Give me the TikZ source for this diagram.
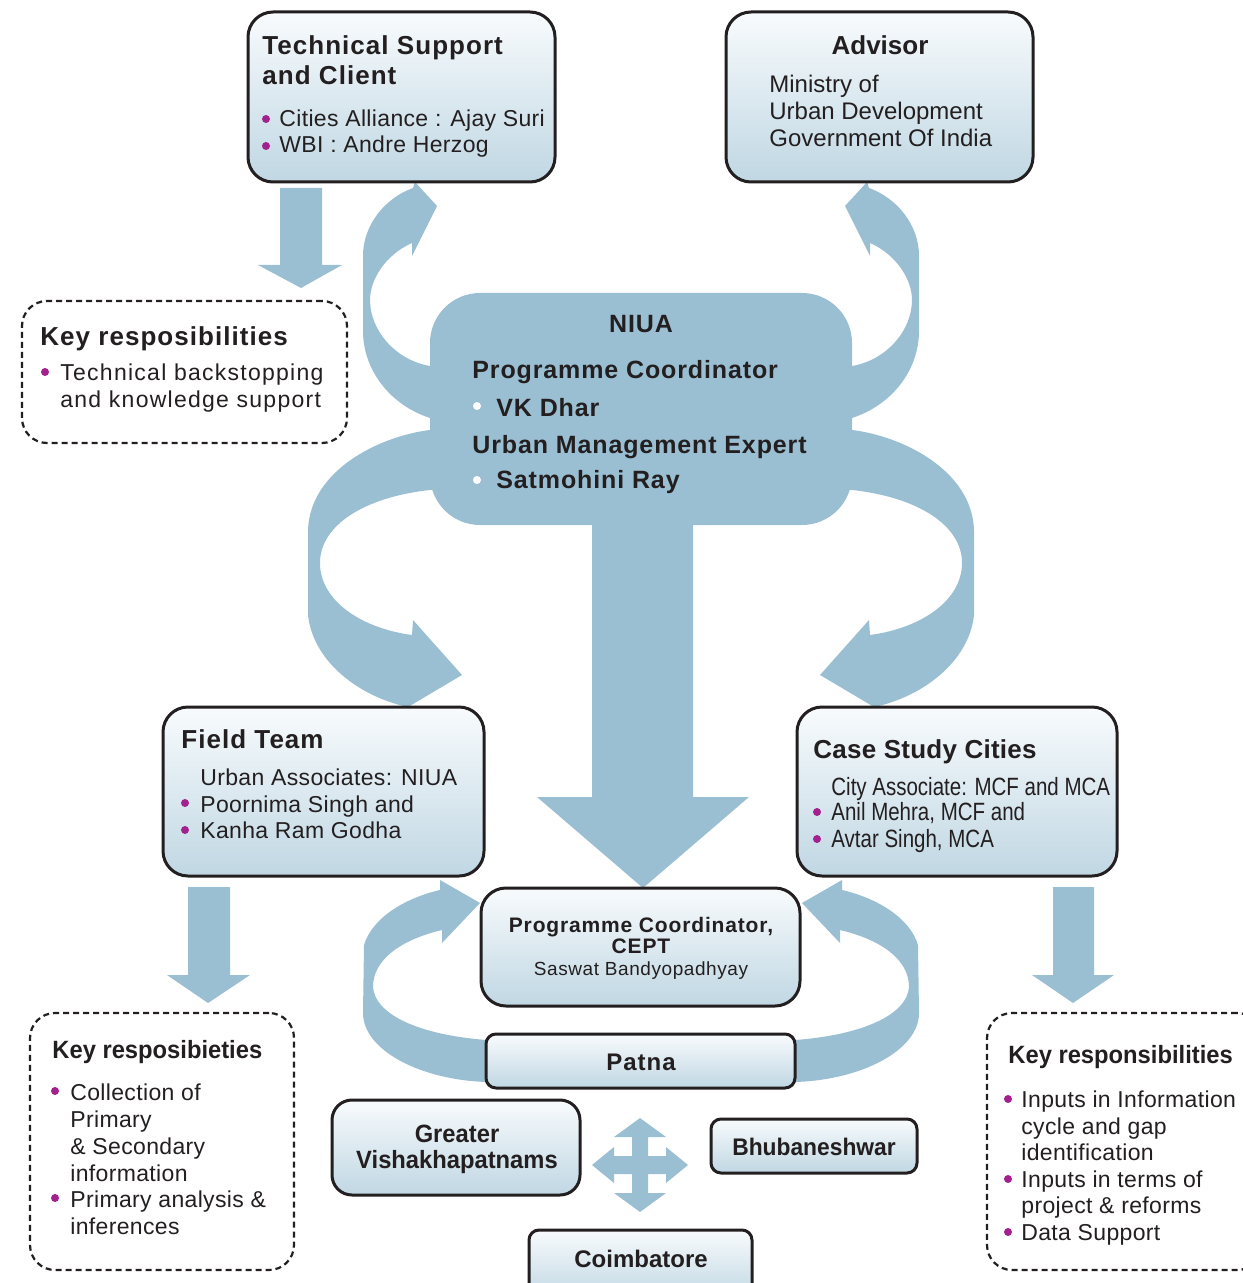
\documentclass[tikz,border=0pt]{standalone}
\usepackage{fontspec}
\setmainfont{Liberation Sans}
\newfontfamily\narrowfont[FakeStretch=0.82]{Liberation Sans}
\newfontfamily\semifont[FakeStretch=0.95]{Liberation Sans}
\definecolor{arr}{HTML}{9BBFD2}
\definecolor{boxtop}{HTML}{F8FBFD}
\definecolor{boxbot}{HTML}{C0D7E3}
\definecolor{ink}{HTML}{231F20}
\definecolor{bul}{HTML}{A3218E}
\newcommand\arrowAshape{\fill[arr] (440,418) -- (430,418) .. controls (390,405) and (363,370) .. (363,331) -- (363,256) .. controls (363,225) and (385,198) .. (413,188) -- (415,182) -- (437,206) -- (412,256) -- (412,243) .. controls (385,255) and (370,280) .. (370,300) .. controls (370,330) and (395,360) .. (430,366) -- (440,366) -- cycle;}
\newcommand\arrowCshape{\fill[arr] (440,430) -- (430,430) .. controls (380,436) and (310,470) .. (308,530) -- (308,615) .. controls (313,662) and (360,697) .. (408,707) -- (462,675) -- (413,620) -- (412,635) .. controls (360,628) and (320,600) .. (320,563) .. controls (320,525) and (365,497) .. (430,490) -- (440,490) -- cycle;}
\newcommand\arrowEshape{\fill[arr] (495,1082) -- (487,1082) .. controls (420,1080) and (363,1050) .. (363,1013) -- (364,945) .. controls (372,918) and (405,898) .. (440,890) -- (440,880) -- (480,903) -- (442,943) -- (442,930) .. controls (400,940) and (373,960) .. (373,987) .. controls (375,1015) and (420,1035) .. (487,1040) -- (495,1040) -- cycle;}
\tikzset{
  box/.style={draw=ink, line width=1.5pt, rounded corners=12.5pt, top color=boxtop, bottom color=boxbot, inner sep=0pt},
  dbox/.style={draw=ink, line width=1.1pt, dash pattern=on 3pt off 2pt, rounded corners=12.5pt, fill=white, inner sep=0pt},
  tx/.style={anchor=base west, inner sep=0pt, text=ink},
  tc/.style={anchor=base, inner sep=0pt, text=ink},
  ttl/.style={font={\bfseries\fontsize{13}{15}\selectfont\addfontfeature{LetterSpace=4}}},
  body/.style={font={\fontsize{11.5}{14}\selectfont\addfontfeature{LetterSpace=1.5}}},
  kbody/.style={font={\fontsize{11.5}{14}\selectfont\addfontfeature{LetterSpace=1.5}}},
}
\begin{document}
\begin{tikzpicture}[x=0.5pt,y=-0.5pt]
\useasboundingbox (0,0) rectangle (1242,1283);

% ---- block arrows
\arrowAshape
\begin{scope}[xshift=641pt, xscale=-1]\arrowAshape\end{scope}
\arrowCshape
\begin{scope}[xshift=641pt, xscale=-1]\arrowCshape\end{scope}
\arrowEshape
\begin{scope}[xshift=641pt, xscale=-1]\arrowEshape\end{scope}
% straight down arrows
\fill[arr] (280,188) -- (322,188) -- (322,265) -- (342,265) -- (301,288) -- (258,265) -- (280,265) -- cycle;
\fill[arr] (188,887) -- (230,887) -- (230,975) -- (250,975) -- (208,1003) -- (167,975) -- (188,975) -- cycle;
\fill[arr] (1053,887) -- (1094,887) -- (1094,975) -- (1114,975) -- (1073,1003) -- (1032,975) -- (1053,975) -- cycle;
% central big arrow
\fill[arr] (592,510) -- (693,510) -- (693,797) -- (749,797) -- (643,888) -- (537,797) -- (592,797) -- cycle;
% four-way arrow
\fill[arr] (640,1118) -- (666,1137) -- (648,1137) -- (648,1156) -- (666,1156) -- (666,1147) -- (688,1165) -- (666,1183) -- (666,1174) -- (648,1174)
  -- (648,1193) -- (666,1193) -- (640,1212) -- (614,1193) -- (632,1193) -- (632,1174) -- (614,1174) -- (614,1183) -- (592,1165) -- (614,1147)
  -- (614,1156) -- (632,1156) -- (632,1137) -- (614,1137) -- cycle;

% ---- NIUA blob
\node[fill=arr, rounded corners=25pt, minimum width=211pt, minimum height=116pt, inner sep=0pt] (niua) at (641,409) {};

% ---- boxes
\node[box, minimum width=153.5pt, minimum height=85pt] (ts) at (401.5,97) {};
\node[box, minimum width=153.5pt, minimum height=85pt] (adv) at (879.5,97) {};
\node[dbox, minimum width=162.5pt, minimum height=71pt] (kr1) at (184.5,372) {};
\node[box, minimum width=160.5pt, minimum height=84.5pt] (ft) at (323.5,791.5) {};
\node[box, minimum width=160pt, minimum height=84.5pt] (csc) at (957,791.5) {};
\node[box, minimum width=159.5pt, minimum height=59pt] (cept) at (640.5,947) {};
\node[box, rounded corners=5pt, minimum width=154.5pt, minimum height=27pt] (patna) at (640.5,1061) {};
\node[box, rounded corners=10pt, minimum width=124pt, minimum height=47.5pt] (gv) at (456,1147.5) {};
\node[box, rounded corners=5pt, minimum width=103pt, minimum height=27pt] (bhu) at (814,1146) {};
\node[box, rounded corners=5pt, minimum width=111.5pt, minimum height=35pt] (coim) at (640.5,1265) {};
\node[dbox, minimum width=132pt, minimum height=128.5pt] (kr2) at (162,1141.5) {};
\node[dbox, minimum width=137.5pt, minimum height=128.5pt] (kr3) at (1124.5,1141.5) {};

% ---- texts: Technical Support
\node[tx, ttl] (ts1) at (262,55) {Technical Support};
\node[tx, ttl] (ts2) at (262,85) {and Client};
\fill[bul] (266,119) circle (2pt); \fill[bul] (266,146) circle (2pt);
\node[tx, body] (ts3) at (279,127) {Cities Alliance : Ajay Suri};
\node[tx, body] (ts4) at (279,153) {WBI : Andre Herzog};

% Advisor
\node[tc, font=\bfseries\fontsize{13}{15}\selectfont] (adv1) at (880,55) {Advisor};
\node[tx, font=\fontsize{12}{14}\selectfont] (adv2) at (769,93) {Ministry of};
\node[tx, font=\fontsize{12}{14}\selectfont] (adv3) at (769,120) {Urban Development};
\node[tx, font=\fontsize{12}{14}\selectfont] (adv4) at (769,147) {Government Of India};

% Key responsibilities 1
\node[tx, ttl] (k11) at (40,345) {Key resposibilities};
\fill[bul] (45,372) circle (2pt);
\node[tx, font={\fontsize{11.5}{14}\selectfont\addfontfeature{LetterSpace=5.5}}] (k12) at (60,380) {Technical backstopping};
\node[tx, font={\fontsize{11.5}{14}\selectfont\addfontfeature{LetterSpace=5.5}}] (k13) at (60,407) {and knowledge support};

% NIUA
\tikzset{nt/.style={font={\bfseries\fontsize{12.5}{15}\selectfont\addfontfeature{LetterSpace=3.5}}}}
\node[tc, nt] (n1) at (641,332) {NIUA};
\node[tx, nt] (n2) at (472,378) {Programme Coordinator};
\fill[white] (477,406) circle (2pt);
\node[tx, nt] (n3) at (496,416) {VK Dhar};
\node[tx, nt] (n4) at (472,453) {Urban Management Expert};
\fill[white] (477,480) circle (2pt);
\node[tx, nt] (n5) at (496,488) {Satmohini Ray};

% Field team
\node[tx, ttl] (f1) at (181,748) {Field Team};
\node[tx, body] (f2) at (200,785) {Urban Associates: NIUA};
\fill[bul] (185,803) circle (2pt); \fill[bul] (185,830) circle (2pt);
\node[tx, body] (f3) at (200,812) {Poornima Singh and};
\node[tx, body] (f4) at (200,838) {Kanha Ram Godha};

% Case study cities
\node[tx, font={\bfseries\fontsize{13}{15}\selectfont\addfontfeature{LetterSpace=1}}] (c1) at (813,758) {Case Study Cities};
\node[tx, font=\narrowfont\fontsize{12.5}{15}\selectfont] (c2) at (831,795) {City Associate: MCF and MCA};
\fill[bul] (817,812) circle (2pt); \fill[bul] (817,839) circle (2pt);
\node[tx, font=\narrowfont\fontsize{12.5}{15}\selectfont] (c3) at (831,820) {Anil Mehra, MCF and};
\node[tx, font=\narrowfont\fontsize{12.5}{15}\selectfont] (c4) at (831,847) {Avtar Singh, MCA};

% CEPT
\node[tc, font={\bfseries\fontsize{10.5}{13}\selectfont\addfontfeature{LetterSpace=4}}] (p1) at (641,932) {Programme Coordinator,};
\node[tc, font={\bfseries\fontsize{10.5}{13}\selectfont\addfontfeature{LetterSpace=4}}] (p2) at (641,953) {CEPT};
\node[tc, font={\fontsize{9.5}{12}\selectfont\addfontfeature{LetterSpace=3}}] (p3) at (641,975) {Saswat Bandyopadhyay};

% cities
\node[tc, font={\bfseries\fontsize{12}{14}\selectfont\addfontfeature{LetterSpace=4}}] (pt) at (641,1070) {Patna};
\node[tc, font=\semifont\bfseries\fontsize{12.5}{15}\selectfont] (g1) at (457,1142) {Greater};
\node[tc, font=\semifont\bfseries\fontsize{12.5}{15}\selectfont] (g2) at (457,1168) {Vishakhapatnams};
\node[tc, font=\semifont\bfseries\fontsize{12}{14}\selectfont] (b1) at (814,1155) {Bhubaneshwar};
\node[tc, font=\bfseries\fontsize{12}{14}\selectfont] (co) at (641,1267) {Coimbatore};

% Key resp 2
\node[tx, font=\semifont\bfseries\fontsize{12.5}{15}\selectfont] (k21) at (52,1058) {Key resposibieties};
\fill[bul] (55,1091) circle (2pt); \fill[bul] (55,1198) circle (2pt);
\node[tx, kbody] (k22) at (70,1100) {Collection of};
\node[tx, kbody] (k23) at (70,1127) {Primary};
\node[tx, kbody] (k24) at (70,1154) {\& Secondary};
\node[tx, kbody] (k25) at (70,1181) {information};
\node[tx, kbody] (k26) at (70,1207) {Primary analysis \&};
\node[tx, kbody] (k27) at (70,1234) {inferences};

% Key resp 3
\node[tx, font=\semifont\bfseries\fontsize{12.5}{15}\selectfont] (k31) at (1008,1063) {Key responsibilities};
\fill[bul] (1008,1099) circle (2pt); \fill[bul] (1008,1179) circle (2pt); \fill[bul] (1008,1232) circle (2pt);
\node[tx, kbody] (k32) at (1021,1107) {Inputs in Information};
\node[tx, kbody] (k33) at (1021,1134) {cycle and gap};
\node[tx, kbody] (k34) at (1021,1160) {identification};
\node[tx, kbody] (k35) at (1021,1187) {Inputs in terms of};
\node[tx, kbody] (k36) at (1021,1213) {project \& reforms};
\node[tx, kbody] (k37) at (1021,1240) {Data Support};
\end{tikzpicture}
\end{document}
